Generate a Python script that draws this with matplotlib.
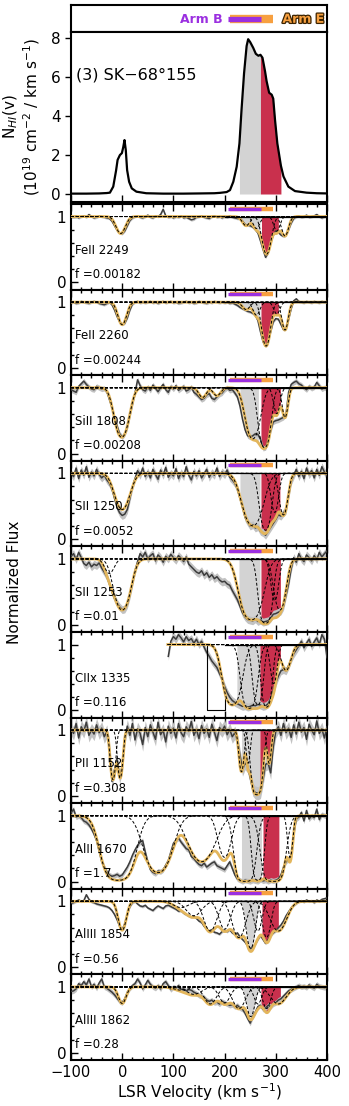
import numpy as np
import matplotlib
matplotlib.use("Agg")
import matplotlib.pyplot as plt
import matplotlib.patheffects as pe
from matplotlib.ticker import MultipleLocator

# velocity grids (km/s)
vel = np.arange(-100, 401, 5)
cii_vel = np.arange(90, 401, 5)
vmod = np.arange(-100, 400.01, 0.5)

# HI column density profile
hi_vel = [-100, -70, -45, -30, -24, -17.5, -12, -9, -4.5, -0.6, 2, 4.5, 7, 9.6, 13.5,
          18.7, 27.8, 47, 80, 120, 152, 180, 191, 204, 210.5, 217, 223.6, 229, 233, 238,
          243, 246, 250, 256, 261, 266, 270, 274, 279, 282, 287, 292, 295, 298.5, 303,
          310, 315, 324.5, 337.5, 360, 380, 400]
hi_col = [0.02, 0.02, 0.03, 0.05, 0.07, 0.38, 1.2, 1.75, 2.0, 2.1, 2.4, 2.77, 2.26, 1.23, 0.63,
          0.29, 0.12, 0.04, 0.02, 0.02, 0.03, 0.04, 0.06, 0.1, 0.2, 0.63, 1.4, 2.6, 4.3, 6.2,
          7.6, 7.95, 7.8, 7.5, 7.2, 7.1, 7.15, 7.0, 6.3, 5.8, 5.2, 5.1, 4.9, 3.8, 2.6,
          1.45, 0.9, 0.38, 0.15, 0.07, 0.04, 0.03]
hi_gray = (229, 270)
hi_red = (270, 310)

# arm velocity ranges
arm_b = (207, 272)
arm_e = (210, 294)

ions = ['FeII 2249', 'FeII 2260', 'SiII 1808', 'SII 1250', 'SII 1253',
        'CIIx 1335', 'PII 1152', 'AlII 1670', 'AlIII 1854', 'AlIII 1862']
fvals = ['0.00182', '0.00244', '0.00208', '0.0052', '0.01',
         '0.116', '0.308', '1.7', '0.56', '0.28']
errs = [0.02, 0.02, 0.04, 0.06, 0.06, 0.06, 0.1, 0.04, 0.02, 0.04]
gray_rng = [(230, 269), (233, 269), (230, 266), (230, 269), (228, 269),
            (224, 269), (233, 269), (233, 272), (230, 272), (230, 272)]
red_rng = [(272, 305), (271, 305), (271, 309), (271, 308), (271, 309),
           (269, 309), (269, 298), (275, 306), (273, 305), (271, 309)]
# component whose own profile is shaded grey (None: shade the whole model)
gray_grp = [None, None, None, None, None, None, None, None, [6], [6]]

# observed normalized flux (5 km/s steps)
feii2249_flux = [1.00, 0.99, 1.01, 0.98, 1.00, 1.01, 0.99, 1.03, 1.00, 0.98,
                 0.99, 1.01, 1.00, 0.99, 0.98, 0.97, 0.93, 0.86, 0.79, 0.75,
                 0.74, 0.78, 0.86, 0.94, 0.98, 1.00, 1.01, 0.99, 0.98, 1.00,
                 1.02, 0.99, 0.98, 1.01, 1.00, 1.03, 1.11, 1.01, 0.99, 1.00,
                 0.98, 1.00, 0.99, 1.01, 0.98, 0.99, 0.97, 0.95, 0.96, 0.99,
                 1.00, 1.01, 0.99, 0.98, 0.97, 1.00, 1.01, 0.99, 1.00, 0.98,
                 1.00, 0.99, 1.01, 0.99, 0.98, 0.97, 0.97, 0.93, 0.88, 0.87,
                 0.86, 0.84, 0.80, 0.75, 0.63, 0.50, 0.38, 0.45, 0.60, 0.72,
                 0.78, 0.76, 0.72, 0.70, 0.72, 0.80, 0.90, 0.97, 1.00, 1.01,
                 0.99, 1.00, 1.02, 0.99, 1.00, 1.01, 1.03, 1.00, 0.98, 1.00,
                 1.01]
feii2260_flux = [0.99, 1.00, 0.98, 0.99, 1.01, 1.00, 0.99, 0.98, 1.00, 1.01,
                 1.00, 0.98, 0.97, 0.96, 0.98, 1.00, 0.96, 0.88, 0.78, 0.70,
                 0.66, 0.68, 0.76, 0.88, 0.97, 1.00, 1.01, 0.99, 1.00, 0.99,
                 1.00, 1.01, 0.99, 1.00, 0.98, 1.00, 1.01, 0.99, 1.00, 1.01,
                 0.99, 1.00, 0.98, 0.99, 1.00, 1.01, 0.99, 1.00, 0.98, 0.99,
                 1.01, 1.00, 0.99, 0.98, 1.00, 0.99, 1.01, 1.00, 0.99, 1.00,
                 0.99, 1.00, 0.98, 0.99, 0.97, 0.95, 0.92, 0.90, 0.88, 0.86,
                 0.85, 0.83, 0.80, 0.72, 0.55, 0.40, 0.33, 0.40, 0.55, 0.70,
                 0.75, 0.74, 0.66, 0.58, 0.60, 0.74, 0.90, 1.02, 1.05, 1.01,
                 1.00, 0.99, 1.01, 1.00, 0.99, 1.01, 1.00, 0.99, 1.01, 1.00,
                 1.00]
siii1808_flux = [0.97, 0.95, 0.93, 1.02, 1.06, 1.10, 1.05, 1.01, 0.98, 0.97,
                 1.02, 1.00, 0.98, 0.99, 0.94, 0.82, 0.70, 0.55, 0.42, 0.30,
                 0.25, 0.30, 0.40, 0.58, 0.75, 0.92, 1.12, 1.03, 0.97, 0.95,
                 1.01, 0.96, 1.04, 0.99, 0.94, 1.00, 1.05, 0.97, 0.93, 1.02,
                 0.98, 1.03, 0.96, 0.99, 1.02, 0.95, 0.97, 1.01, 0.93, 0.90,
                 0.86, 0.82, 0.84, 0.89, 0.91, 0.84, 0.82, 0.86, 0.90, 0.92,
                 0.97, 1.00, 0.96, 0.97, 0.92, 0.86, 0.72, 0.52, 0.36, 0.27,
                 0.25, 0.27, 0.30, 0.29, 0.22, 0.08, 0.09, 0.20, 0.35, 0.48,
                 0.50, 0.51, 0.53, 0.55, 0.60, 0.93, 1.05, 1.08, 1.10, 1.06,
                 1.04, 1.00, 0.97, 1.02, 0.99, 1.01, 1.08, 1.03, 0.98, 1.00,
                 0.99]
sii1250_flux = [1.00, 0.95, 1.08, 0.92, 1.05, 0.97, 1.10, 0.94, 1.02, 0.96,
                1.06, 0.98, 0.93, 0.97, 0.90, 0.85, 0.76, 0.62, 0.48, 0.40,
                0.36, 0.38, 0.45, 0.62, 0.80, 0.92, 1.04, 0.97, 1.08, 0.95,
                1.02, 0.93, 1.06, 0.98, 0.91, 1.05, 0.97, 1.09, 0.94, 1.00,
                0.96, 1.07, 0.92, 1.01, 0.95, 1.10, 0.97, 0.90, 1.03, 0.96,
                1.04, 0.93, 0.99, 1.06, 0.94, 1.01, 0.97, 1.08, 0.95, 1.02,
                0.98, 1.05, 0.94, 0.90, 0.85, 0.76, 0.62, 0.48, 0.33, 0.26,
                0.20, 0.22, 0.17, 0.19, 0.12, 0.10, 0.06, 0.12, 0.18, 0.24,
                0.30, 0.37, 0.35, 0.40, 0.44, 0.66, 0.88, 0.97, 1.06, 0.95,
                1.03, 0.92, 1.08, 0.98, 1.04, 0.93, 1.06, 0.97, 1.10, 1.02,
                0.96]
sii1253_flux = [1.04, 1.08, 0.99, 1.10, 1.02, 0.93, 0.90, 0.95, 0.88, 0.92,
                0.90, 0.94, 0.86, 0.80, 0.73, 0.62, 0.50, 0.40, 0.33, 0.27,
                0.23, 0.24, 0.31, 0.45, 0.63, 0.82, 0.96, 1.08, 1.03, 1.10,
                1.00, 1.05, 1.08, 0.97, 1.06, 1.02, 0.95, 1.04, 1.00, 1.07,
                1.02, 0.98, 1.05, 1.01, 0.96, 1.03, 0.92, 0.88, 0.84, 0.80,
                0.78, 0.82, 0.75, 0.79, 0.72, 0.76, 0.70, 0.73, 0.68, 0.65,
                0.66, 0.62, 0.60, 0.52, 0.45, 0.38, 0.28, 0.18, 0.12, 0.08,
                0.07, 0.06, 0.09, 0.05, 0.07, 0.04, 0.05, 0.06, 0.10, 0.16,
                0.17, 0.19, 0.21, 0.28, 0.45, 0.62, 0.85, 1.02, 0.95, 1.08,
                1.00, 0.96, 1.06, 1.02, 0.97, 1.05, 0.99, 1.10, 1.03, 1.08,
                1.12]
cii1335_flux = [0.82, 1.05, 1.12, 1.08, 1.15, 1.10, 1.04, 1.12, 1.06, 1.09,
                1.02, 1.08, 1.00, 1.05, 0.96, 0.88, 0.82, 0.75, 0.70, 0.65,
                0.56, 0.48, 0.36, 0.27, 0.20, 0.15, 0.12, 0.10, 0.08, 0.06,
                0.07, 0.05, 0.06, 0.08, 0.07, 0.09, 0.08, 0.06, 0.07, 0.10,
                0.18, 0.30, 0.42, 0.52, 0.60, 0.62, 0.60, 0.68, 0.78, 0.86,
                0.92, 0.98, 1.05, 0.95, 1.02, 1.08, 0.97, 1.04, 1.10, 1.00,
                1.15, 1.08, 0.80]
pii1152_flux = [1.02, 0.95, 1.10, 0.88, 1.05, 0.98, 1.12, 0.92, 1.00, 0.94,
                1.08, 0.96, 1.03, 0.90, 0.98, 0.72, 0.22, 0.40, 0.55, 0.28,
                0.45, 0.88, 1.06, 0.92, 1.10, 0.85, 1.02, 0.95, 0.78, 1.04,
                0.90, 1.08, 0.97, 0.86, 1.12, 0.93, 1.00, 0.82, 1.06, 0.95,
                1.03, 0.88, 1.10, 0.96, 0.90, 1.05, 0.98, 1.13, 0.92, 1.01,
                0.87, 1.07, 0.95, 1.02, 0.89, 1.09, 0.97, 0.84, 1.04, 0.99,
                1.06, 0.93, 1.01, 0.90, 0.96, 0.85, 0.62, 0.40, 0.50, 0.45,
                0.28, 0.10, 0.05, 0.04, 0.06, 0.25, 0.48, 0.50, 0.35, 0.75,
                0.98, 1.05, 0.92, 1.10, 0.96, 1.03, 0.89, 1.08, 0.94, 1.12,
                0.97, 1.04, 0.86, 1.09, 1.00, 0.93, 1.14, 0.95, 1.02, 0.88,
                1.05]
alii1670_flux = [1.04, 1.10, 0.98, 1.00, 0.97, 0.92, 0.90, 0.86, 0.80, 0.72,
                 0.62, 0.46, 0.30, 0.22, 0.15, 0.10, 0.08, 0.09, 0.11, 0.08,
                 0.10, 0.16, 0.22, 0.30, 0.40, 0.48, 0.55, 0.60, 0.62, 0.45,
                 0.30, 0.18, 0.14, 0.12, 0.16, 0.15, 0.18, 0.25, 0.32, 0.45,
                 0.58, 0.63, 0.66, 0.60, 0.55, 0.50, 0.48, 0.38, 0.35, 0.30,
                 0.26, 0.24, 0.28, 0.22, 0.25, 0.28, 0.30, 0.24, 0.22, 0.20,
                 0.18, 0.24, 0.30, 0.20, 0.10, 0.04, 0.02, 0.00, 0.02, 0.01,
                 0.00, 0.02, 0.01, 0.00, 0.03, 0.01, 0.02, 0.00, 0.02, 0.01,
                 0.02, 0.04, 0.10, 0.22, 0.30, 0.35, 0.40, 0.72, 0.95, 0.98,
                 1.05, 0.92, 1.08, 0.95, 1.00, 0.97, 1.10, 0.94, 1.02, 1.00,
                 0.99]
aliii1854_flux = [0.97, 0.98, 1.00, 1.02, 1.00, 1.01, 1.10, 1.03, 0.99, 0.98,
                  0.96, 0.95, 0.94, 0.93, 0.92, 0.90, 0.86, 0.80, 0.72, 0.62,
                  0.57, 0.66, 0.80, 0.92, 0.98, 1.00, 0.96, 0.93, 0.92, 0.94,
                  0.90, 0.88, 0.86, 0.90, 0.93, 0.91, 0.89, 0.93, 0.94, 0.92,
                  0.90, 0.88, 0.85, 0.86, 0.82, 0.80, 0.78, 0.76, 0.78, 0.74,
                  0.70, 0.68, 0.62, 0.58, 0.55, 0.57, 0.53, 0.52, 0.50, 0.54,
                  0.56, 0.54, 0.57, 0.52, 0.50, 0.52, 0.46, 0.42, 0.38, 0.32,
                  0.28, 0.30, 0.35, 0.42, 0.48, 0.42, 0.36, 0.42, 0.48, 0.52,
                  0.55, 0.60, 0.64, 0.70, 0.78, 0.84, 0.90, 0.94, 0.97, 1.00,
                  1.01, 0.99, 1.02, 1.00, 1.01, 0.98, 1.02, 1.00, 1.03, 1.04,
                  1.05]
aliii1862_flux = [0.93, 0.94, 0.97, 1.05, 1.02, 1.08, 1.03, 1.12, 1.00, 1.04,
                  0.98, 1.06, 1.12, 1.00, 0.98, 0.95, 0.92, 0.88, 0.83, 0.78,
                  0.76, 0.82, 0.92, 0.98, 1.02, 1.05, 1.12, 1.06, 0.97, 1.03,
                  1.10, 1.04, 1.00, 0.98, 1.02, 0.97, 1.05, 1.08, 1.02, 0.96,
                  1.00, 0.98, 1.02, 0.96, 0.97, 0.94, 0.96, 0.95, 0.92, 0.90,
                  0.87, 0.86, 0.84, 0.80, 0.78, 0.80, 0.76, 0.77, 0.74, 0.78,
                  0.76, 0.74, 0.72, 0.73, 0.70, 0.72, 0.68, 0.66, 0.60, 0.52,
                  0.45, 0.55, 0.62, 0.70, 0.72, 0.66, 0.68, 0.72, 0.70, 0.74,
                  0.76, 0.80, 0.82, 0.86, 0.90, 0.94, 0.96, 0.98, 1.00, 1.02,
                  1.00, 1.01, 0.99, 1.03, 1.00, 0.98, 1.04, 1.01, 1.00, 0.99,
                  1.00]

# fitted components: (centre km/s, optical depth, b km/s)
feii2249_comps = [(-3, 0.30, 12), (242, 0.15, 10), (262, 0.20, 9), (282, 0.85, 11), (302, 0.25, 8), (318, 0.35, 9)]
feii2260_comps = [(0, 0.42, 11), (242, 0.12, 10), (262, 0.22, 9), (281, 1.1, 10), (302, 0.2, 8), (318, 0.55, 8)]
siii1808_comps = [(-1, 1.4, 16), (157, 0.16, 10), (185, 0.13, 10), (255, 1.5, 16), (278, 2.4, 12), (302, 0.5, 8), (318, 0.6, 7)]
sii1250_comps = [(0, 0.8, 18), (255, 1.6, 22), (280, 2.0, 12), (298, 0.9, 9), (315, 1.0, 10)]
sii1253_comps = [(0, 1.5, 18), (-25, 0.25, 12), (252, 2.6, 22), (280, 3.8, 12), (298, 1.0, 9), (308, 1.5, 13)]
cii1335_comps = [(215, 2.5, 18), (248, 3.5, 14), (265, 2.5, 10), (282, 3.0, 10), (296, 0.9, 8), (320, 0.5, 12)]
pii1152_comps = [(-18, 1.4, 6), (-4, 1.3, 6), (233, 1.0, 6), (246, 0.7, 5), (263, 4.0, 10), (287, 0.7, 5)]
alii1670_comps = [(-8, 4.0, 28), (70, 2.0, 28), (155, 1.2, 30), (200, 1.0, 15), (240, 6.0, 16), (265, 4.0, 10), (295, 6.0, 18), (328, 1.0, 6)]
aliii1854_comps = [(0, 0.58, 10), (115, 0.1, 20), (140, 0.25, 20), (172, 0.6, 16), (200, 0.55, 14), (228, 0.8, 16), (251, 1.25, 10), (265, 0.6, 10), (282, 0.8, 10), (305, 0.6, 20)]
aliii1862_comps = [(0, 0.29, 10), (115, 0.05, 20), (140, 0.12, 20), (172, 0.3, 16), (200, 0.28, 14), (228, 0.4, 16), (251, 0.6, 10), (265, 0.3, 10), (282, 0.4, 10), (305, 0.3, 20)]

# masked stretch in the CII panel
cii_mask_v = [165, 165, 200, 200]
cii_mask_f = [1.0, 0.0, 0.0, 0.33]

fluxes = [feii2249_flux, feii2260_flux, siii1808_flux, sii1250_flux, sii1253_flux,
          cii1335_flux, pii1152_flux, alii1670_flux, aliii1854_flux, aliii1862_flux]
comps_all = [feii2249_comps, feii2260_comps, siii1808_comps, sii1250_comps, sii1253_comps,
             cii1335_comps, pii1152_comps, alii1670_comps, aliii1854_comps, aliii1862_comps]

PURPLE = '#9b2fe0'
ORANGE = '#f7a040'
GRAY = '#d3d3d3'
RED = '#c9304d'
MODEL = '#e3b65c'

plt.rcParams['font.family'] = 'DejaVu Sans'
fig = plt.figure(figsize=(3.49, 11.06), dpi=100)
FW, FH = 349.0, 1106.0
L, W = 71 / FW, 256 / FW


def fy(px):
    return 1 - px / FH


def style(ax):
    for s in ax.spines.values():
        s.set_linewidth(1.5)


# arm panel
ax = fig.add_axes([L, fy(32), W, 27 / FH])
style(ax)
ax.set_xlim(-100, 400)
ax.set_ylim(0, 1)
ax.set_xticks([])
ax.set_yticks([])
ax.plot(arm_e, [0.5, 0.5], color=ORANGE, lw=6, solid_capstyle='butt')
ax.plot(arm_b, [0.5, 0.5], color=PURPLE, lw=3.8, solid_capstyle='butt')
ax.text(196, 0.47, 'Arm B', color=PURPLE, fontsize=9, fontweight='bold', ha='right', va='center')
ax.text(313, 0.47, 'Arm E', color=ORANGE, fontsize=9, fontweight='bold', ha='left', va='center',
        path_effects=[pe.withStroke(linewidth=1.8, foreground='#3a2200')])

# HI panel
ax = fig.add_axes([L, fy(202), W, 170 / FH])
style(ax)
hv = np.array(hi_vel)
hc = np.array(hi_col)
for (lo, hi), col in [(hi_gray, GRAY), (hi_red, RED)]:
    sel = (hv >= lo) & (hv <= hi)
    ax.fill_between(hv[sel], 0, hc[sel], color=col, lw=0, zorder=1)
ax.plot(hv, hc, color='k', lw=1.6, zorder=3)
ax.set_xlim(-100, 400)
ax.set_ylim(-0.41, 8.32)
ax.set_yticks([0, 2, 4, 6, 8])
ax.xaxis.set_major_locator(MultipleLocator(100))
ax.tick_params(axis='y', direction='out', length=4, width=1, labelsize=11)
ax.tick_params(axis='x', direction='in', length=5, width=1, labelbottom=False)
ax.text(-91, 6.1, '(3) SK\u221268\u00b0155', fontsize=11.5, va='center', ha='left')
fig.text(22 / FW, fy(117), 'N$_{HI}$(v)\n(10$^{19}$ cm$^{-2}$ / km s$^{-1}$)', rotation=90,
         ha='center', va='center', fontsize=11, multialignment='center', linespacing=1.1)

# spectra
ph = 85.6
for i in range(10):
    ax = fig.add_axes([L, fy(204 + (i + 1) * ph), W, ph / FH])
    style(ax)
    v_obs = cii_vel if i == 5 else vel
    f_obs = np.array(fluxes[i])
    vm = vmod[vmod >= 89] if i == 5 else vmod
    profs = [np.exp(-t * np.exp(-((vm - c) / b) ** 2)) for c, t, b in comps_all[i]]
    model = np.prod(profs, axis=0)

    for (lo, hi), grp, col in [(gray_rng[i], gray_grp[i], GRAY), (red_rng[i], None, RED)]:
        sel = (vm >= lo) & (vm <= hi)
        low = model if grp is None else np.prod([profs[j] for j in grp], axis=0)
        ax.fill_between(vm[sel], low[sel], 1, color=col, lw=0, zorder=1)

    e = errs[i]
    ax.fill_between(v_obs, f_obs - e, f_obs + e, color='#c2c2c2', lw=0, zorder=2)
    ax.plot(v_obs, f_obs, color='#3c3c3c', lw=1.1, zorder=3)
    if i == 5:
        ax.plot(cii_mask_v, cii_mask_f, color='k', lw=0.8, zorder=3)
    ax.plot(vm, model, color=MODEL, lw=2.0, zorder=4)
    for p in profs:
        ax.plot(vm, p, color='k', lw=0.7, ls=(0, (3, 2)), zorder=5)
    ax.plot([200, 400], [1, 1], color='k', lw=0.9, zorder=5)

    ax.plot(arm_e, [1.12, 1.12], color=ORANGE, lw=3.2, solid_capstyle='butt', zorder=6)
    ax.plot(arm_b, [1.12, 1.12], color=PURPLE, lw=2.4, solid_capstyle='butt', zorder=7)

    ax.text(-92, 0.49, ions[i], fontsize=8.5, va='center', ha='left', zorder=8)
    ax.text(-92, 0.12, 'f =' + fvals[i], fontsize=8.5, va='center', ha='left', zorder=8)

    ax.set_xlim(-100, 400)
    ax.set_ylim(-0.11, 1.19)
    ax.set_yticks([0, 1])
    ax.yaxis.set_minor_locator(MultipleLocator(0.2))
    ax.xaxis.set_major_locator(MultipleLocator(100))
    ax.xaxis.set_minor_locator(MultipleLocator(20))
    ax.tick_params(which='both', direction='in', top=True, right=False, width=1, labelsize=11)
    ax.tick_params(which='major', length=5)
    ax.tick_params(which='minor', length=2.5)
    if i < 9:
        ax.tick_params(labelbottom=False)
    else:
        ax.tick_params(axis='x', labelsize=10.5)
        ax.set_xlabel('LSR Velocity (km s$^{-1}$)', fontsize=11, labelpad=1)

fig.text(15 / FW, fy(582), 'Normalized Flux', rotation=90, ha='center', va='center',
         fontsize=11, family=['Liberation Sans Narrow', 'DejaVu Sans Condensed', 'DejaVu Sans'])

fig.savefig('out.png', dpi=100)
